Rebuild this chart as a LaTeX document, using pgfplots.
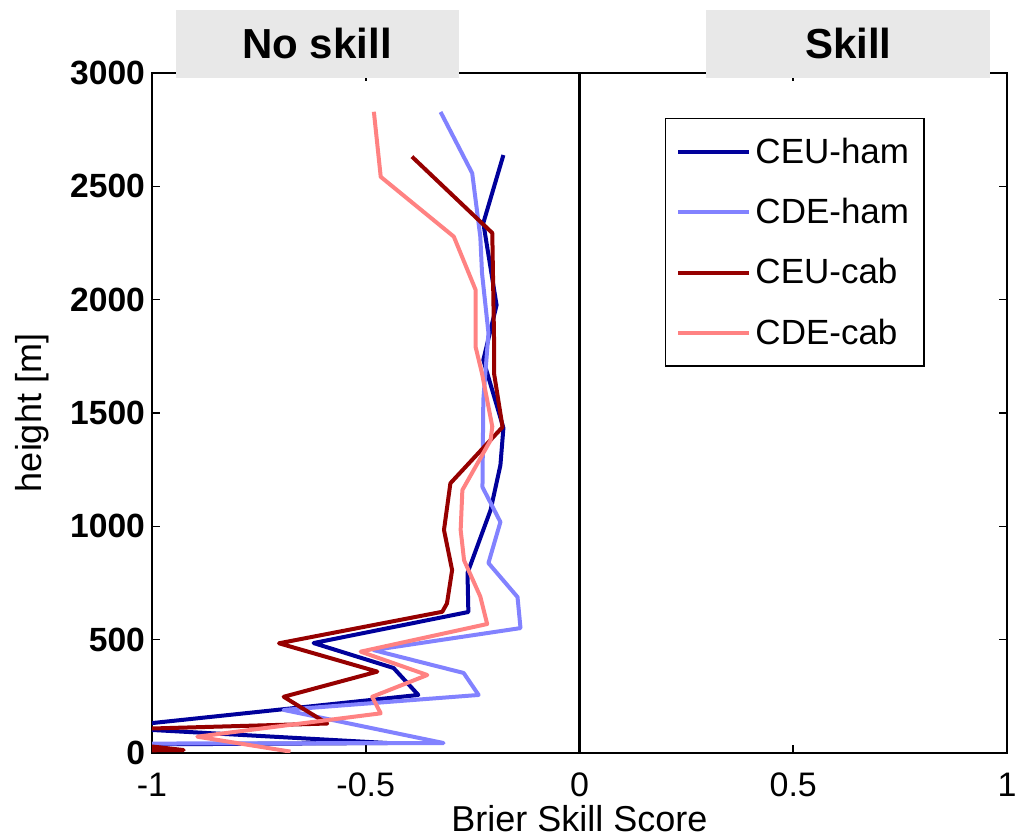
\documentclass[border=0pt]{standalone}
\usepackage{pgfplots}
\pgfplotsset{compat=1.18}
\usepackage{fontspec}
\setmainfont{Liberation Sans}
\usetikzlibrary{calc}

\definecolor{ceuham}{RGB}{0,0,155}
\definecolor{cdeham}{RGB}{130,130,255}
\definecolor{ceucab}{RGB}{150,0,0}
\definecolor{cdecab}{RGB}{255,130,130}
\definecolor{boxgray}{RGB}{232,232,232}

\begin{document}
\begin{tikzpicture}
\begin{axis}[
  scale only axis, width=427.5pt, height=340pt,
  xmin=-1, xmax=1, ymin=0, ymax=3000,
  xtick={-1,-0.5,0,0.5,1},
  ytick={0,500,1000,1500,2000,2500,3000},
  /pgf/number format/assume math mode=true,
  /pgf/number format/1000 sep={},
  xticklabel style={font=\fontsize{17}{20}\selectfont, anchor=base, yshift=-22pt},
  yticklabel style={font=\bfseries\fontsize{16.8}{19}\selectfont},
  major tick length=4pt,
  every tick/.style={black, line width=0.8pt},
  axis line style={line width=0.8pt},
  xlabel={Brier Skill Score},
  ylabel={height [m]},
  xlabel style={at={(axis description cs:0.5,-0.1150)}, anchor=base, font=\fontsize{18}{22}\selectfont},
  ylabel style={at={(axis description cs:-0.1287,0.5)}, anchor=base, font=\fontsize{18}{22}\selectfont},
  legend style={at={(axis description cs:0.904,0.934)}, anchor=north east,
    draw=black, line width=0.8pt, fill=white,
    font=\fontsize{17.5}{21}\selectfont, row sep=12pt,
    inner xsep=5.5pt, inner ysep=7.5pt},
  legend cell align=left,
  legend image code/.code={\draw[#1, line width=2pt] (0pt,0pt) -- (35.5pt,0pt);},
  every axis plot/.append style={line width=2pt, line join=round},
]
% vertical line separating no skill / skill
\addplot[black, line width=1.4pt, forget plot] coordinates {(0,0) (0,3000)};

\addplot[ceuham] coordinates {
  (-0.178,2638) (-0.225,2338) (-0.194,1976) (-0.225,1734) (-0.178,1434)
  (-0.185,1270) (-0.208,1072) (-0.262,794) (-0.260,622) (-0.622,485)
  (-0.435,375) (-0.377,256) (-1.100,112) (-0.449,44) (-1.300,35)
};
\addlegendentry{CEU-ham}

\addplot[cdeham] coordinates {
  (-0.325,2828) (-0.251,2558) (-0.232,2277) (-0.228,2116) (-0.213,1853)
  (-0.225,1557) (-0.227,1173) (-0.185,1019) (-0.213,838) (-0.145,688)
  (-0.138,551) (-0.482,454) (-0.271,353) (-0.236,256) (-0.692,190)
  (-0.318,44) (-1.500,40)
};
\addlegendentry{CDE-ham}

\addplot[ceucab] coordinates {
  (-0.392,2631) (-0.204,2294) (-0.200,1835) (-0.200,1676) (-0.180,1438)
  (-0.302,1190) (-0.317,984) (-0.298,807) (-0.310,660) (-0.321,623)
  (-0.703,484) (-0.473,359) (-0.692,248) (-0.590,130) (-1.300,92)
  (-0.926,13) (-1.500,5)
};
\addlegendentry{CEU-cab}

\addplot[cdecab] coordinates {
  (-0.481,2829) (-0.465,2542) (-0.294,2278) (-0.243,2043) (-0.243,1791)
  (-0.228,1674) (-0.204,1440) (-0.208,1380) (-0.274,1160) (-0.278,984)
  (-0.270,850) (-0.232,690) (-0.216,569) (-0.512,447) (-0.356,344)
  (-0.485,248) (-0.465,175) (-0.894,72) (-0.676,6)
};
\addlegendentry{CDE-cab}

\coordinate (na) at (axis cs:-0.945,2978);
\coordinate (nb) at (axis cs:-0.283,3278);
\coordinate (sa) at (axis cs:0.297,2978);
\coordinate (sb) at (axis cs:0.961,3278);
\end{axis}

% region labels above the plot
\fill[boxgray] (na) rectangle (nb);
\fill[boxgray] (sa) rectangle (sb);
\node[font=\bfseries\fontsize{21}{24}\selectfont] at ($(na)!0.5!(nb)$) {No skill};
\node[font=\bfseries\fontsize{21}{24}\selectfont] at ($(sa)!0.5!(sb)$) {Skill};

\pgfresetboundingbox
\path (-76pt,-42.5pt) rectangle (432pt,376.5pt);
\end{tikzpicture}
\end{document}
